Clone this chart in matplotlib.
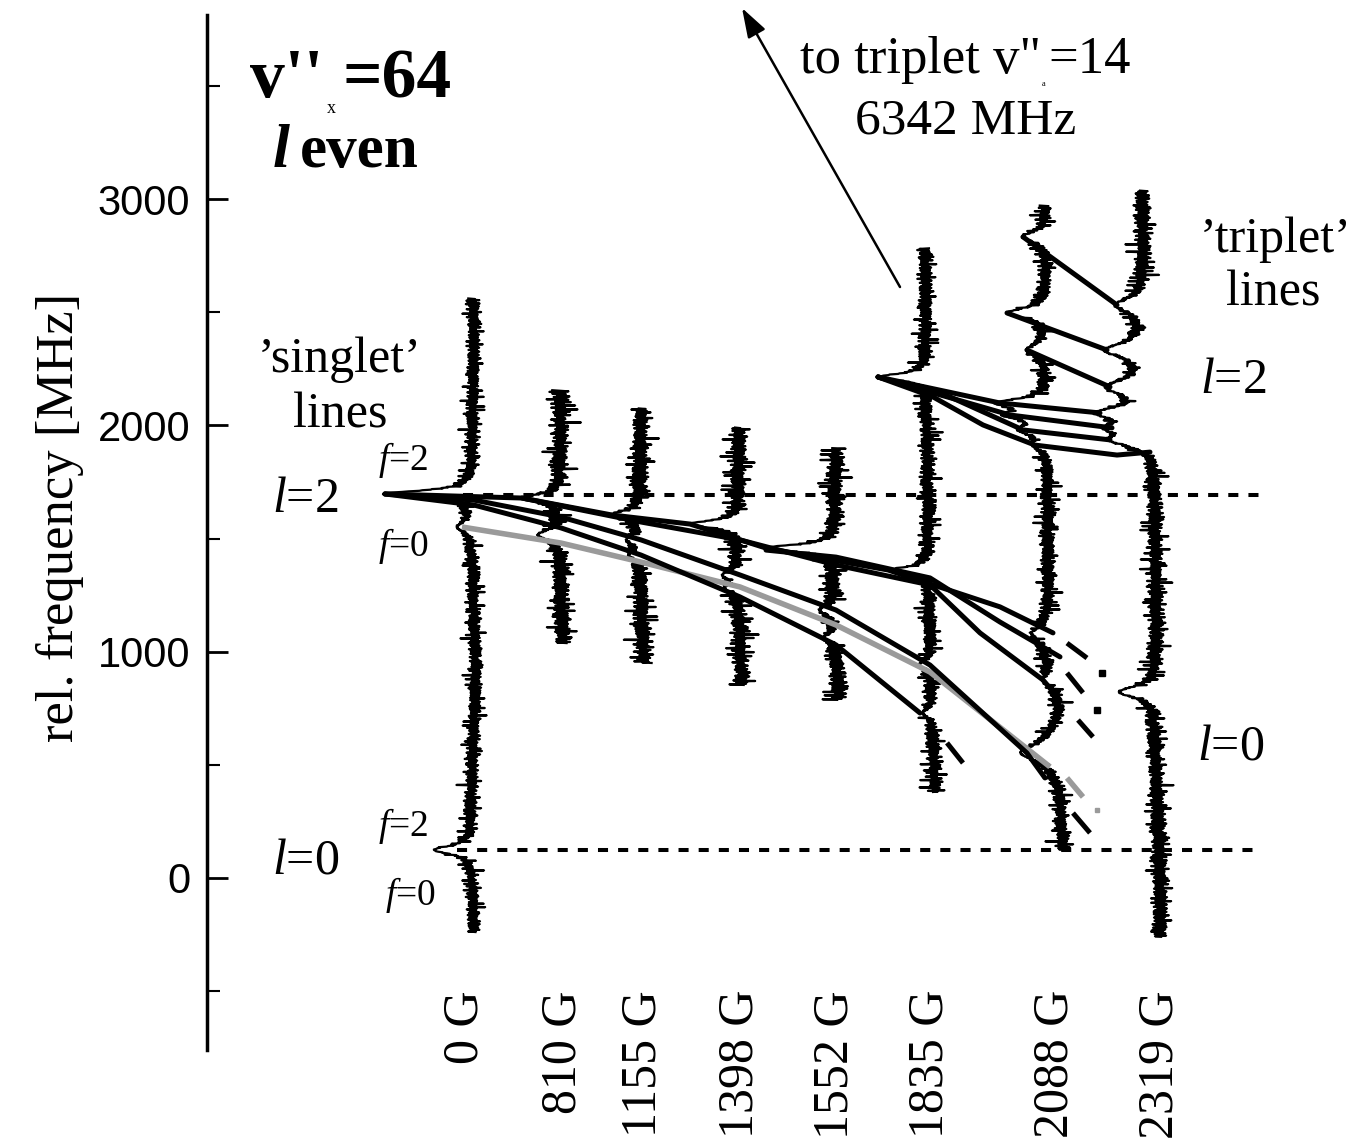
import numpy as np
import matplotlib.pyplot as plt
from matplotlib import transforms

plt.rcParams['mathtext.fontset'] = 'custom'
plt.rcParams['mathtext.rm'] = 'Liberation Serif'
plt.rcParams['mathtext.it'] = 'Liberation Serif:italic'
plt.rcParams['mathtext.bf'] = 'Liberation Serif:bold'

SERIF = 'Liberation Serif'
SANS = 'Liberation Sans'
W, H = 1350, 1147

# magnetic field of each recorded spectrum
fields = [0, 810, 1155, 1398, 1552, 1835, 2088, 2319]
field_labels = ['%d G' % b for b in fields]
label_x = [465, 563, 643, 740, 835, 930, 1055, 1160]

# frequency span of each trace [MHz]
trace_lo = [-239, 1038, 950, 853, 787, 380, 124, -260]
trace_hi = [2563, 2156, 2077, 1993, 1900, 2784, 2974, 3040]

# column of each trace as (MHz, offset) anchors, bottom to top
trace_base = [
    [(-239, 474), (300, 471), (900, 476), (1500, 472), (2563, 474)],
    [(1038, 563), (1500, 560), (2156, 561)],
    [(950, 644), (1400, 640), (2077, 641)],
    [(853, 742), (1300, 738), (1993, 739)],
    [(787, 839), (1200, 834), (1900, 836)],
    [(380, 935), (1300, 929), (2784, 925)],
    [(124, 1063), (400, 1060), (560, 1045), (730, 1060), (870, 1055),
     (1050, 1040), (1200, 1048), (2000, 1049), (2974, 1046)],
    [(-260, 1160), (124, 1160), (600, 1155), (1000, 1157), (1860, 1155),
     (1900, 1146), (3040, 1143)],
]

# resonances seen in each trace: (MHz, depth, half width in MHz)
trace_peaks = [
    [(1697, 89, 18), (1551, 14, 25), (124, 38, 22)],
    [(1679, 39, 20), (1516, 22, 25)],
    [(1604, 30, 20), (1494, 12, 22), (1427, 10, 22)],
    [(1564, 50, 18), (1339, 14, 22), (1280, 12, 22)],
    [(1458, 70, 18), (1184, 14, 22), (1060, 12, 22)],
    [(2214, 47, 18), (1361, 37, 18), (941, 12, 22), (729, 10, 22)],
    [(2833, 24, 25), (2497, 40, 25), (2333, 20, 30), (2099, 47, 22),
     (2046, 37, 22), (1980, 25, 25), (1913, 12, 25), (1083, 10, 22),
     (875, 12, 25), (552, 25, 40)],
    [(2532, 28, 35), (2333, 38, 35), (2170, 35, 35), (2055, 43, 28),
     (1989, 30, 25), (1936, 30, 25), (822, 37, 30)],
]
noise_amp = [9, 12, 12, 12, 12, 10, 10, 11]

# detector noise, repeated along the traces
noise_pattern = [0.3, -0.8, 0.5, -0.2, 0.9, -0.6, 0.1, -0.9, 0.7, -0.4, 0.2, -0.7,
                 1.0, -0.3, 0.4, -1.0, 0.6, -0.5, 0.0, 0.8, -0.6, 0.3, -0.9, 0.5,
                 -0.1, 0.7, -0.8, 0.2, -0.4, 0.9, -0.7, 0.4, -0.2, 0.6, -1.0, 0.8,
                 -0.3, 0.1, -0.5, 0.7, -0.9, 0.3, 0.5, -0.6, 0.9, -0.2, -0.8, 0.4,
                 0.0, -0.7, 1.0, -0.4, 0.2, -0.9, 0.6, -0.1, 0.8, -0.5, 0.3, -0.8,
                 0.5, 0.1, -0.6, 0.9, -0.3, 0.7, -1.0, 0.2, -0.4, 0.6, -0.7, 0.4,
                 -0.2, 0.8, -0.9, 0.1, 0.5, -0.5, 0.7, -0.3, 0.9, -0.8, 0.3, -0.1,
                 0.6, -0.6, 1.0, -0.4, 0.2, -0.7, 0.4, -0.9, 0.8, -0.2, 0.5, -0.5, 0.1]
# burst envelope of the noise (length coprime with the pattern above)
spike_pattern = [0.6, 0.8, 0.5, 1.5, 0.7, 0.6, 0.9, 0.5, 0.7, 1.2, 0.6, 0.8, 0.5, 0.7,
                 1.7, 0.6, 0.5, 0.8, 0.6, 0.9, 0.5, 1.3, 0.7, 0.6, 0.8, 0.5, 0.6, 1.6,
                 0.7, 0.5, 0.9, 0.6, 0.7, 1.1, 0.5, 0.8, 0.6, 1.4, 0.7, 0.5, 0.8]

# level curves through the resonances: (offsets, MHz)
singlet_curves = [
    ([385, 522, 612, 690, 766, 888, 1000, 1053], [1697, 1679, 1604, 1564, 1458, 1361, 1198, 1083]),
    ([766, 836, 930, 1000, 1060], [1449, 1418, 1326, 1131, 977]),
    ([522, 641, 740, 836, 930, 980, 1043, 1060], [1679, 1573, 1494, 1383, 1295, 1083, 875, 787]),
    ([385, 474, 561, 641, 740, 836, 930, 1027, 1045], [1697, 1670, 1595, 1494, 1339, 1184, 941, 552, 442]),
    ([385, 474, 561, 641, 740, 836, 920], [1697, 1648, 1547, 1427, 1242, 1030, 729]),
]
gray_curve = ([462, 561, 641, 740, 836, 930, 1050], [1551, 1480, 1396, 1286, 1118, 910, 491])
# extrapolated continuations: dash segment and optional dot
singlet_tails = [
    ([1067, 1087], [1038, 972], (1102, 906)),
    ([1067, 1083], [906, 818], (1097, 742)),
    ([1078, 1093], [698, 623], None),
    ([1073, 1090], [287, 199], None),
    ([947, 963], [597, 508], None),
]
gray_tail = ([1067, 1083], [442, 358], (1097, 300))

triplet_curves = [
    ([1023, 1117], [2833, 2532]),
    ([1007, 1107], [2497, 2333]),
    ([1027, 1110], [2333, 2170]),
    ([878, 1000, 1100], [2214, 2099, 2055]),
    ([878, 1010, 1112], [2214, 2046, 1989]),
    ([878, 950, 1023, 1110], [2214, 2126, 1980, 1936]),
    ([878, 933, 983, 1035, 1117, 1150], [2214, 2126, 2002, 1913, 1869, 1882]),
]

l2_level = 1692
l0_level = 124

fig = plt.figure(figsize=(W / 100, H / 100), dpi=100)
ax = fig.add_axes([0, 0, 1, 1])
ax.set_xlim(0, W)
ax.set_ylim(-1189, 3880)
ax.patch.set_visible(False)
for side in ['top', 'right', 'bottom']:
    ax.spines[side].set_visible(False)
ax.spines['left'].set_position(('data', 207))
ax.spines['left'].set_bounds(-760, 3813)
ax.spines['left'].set_linewidth(2.5)
ax.xaxis.set_visible(False)
ax.set_yticks([0, 1000, 2000, 3000])
ax.set_yticks([-500, 500, 1500, 2500, 3500], minor=True)
ax.tick_params(axis='y', which='major', direction='in', length=15, width=2,
               pad=12, labelsize=30, labelfontfamily=SANS)
ax.tick_params(axis='y', which='minor', direction='in', length=9, width=1.5)

# pixel-like layout coordinates for annotations
pix = transforms.Affine2D().scale(1 / W, -1 / H).translate(0, 1) + fig.transFigure

# traces
for i in range(len(fields)):
    f = np.arange(trace_lo[i], trace_hi[i], 2.5)
    af = [a[0] for a in trace_base[i]]
    bx = [a[1] for a in trace_base[i]]
    x = np.interp(f, af, bx)
    peak_frac = np.zeros_like(f)
    for f0, depth, hw in trace_peaks[i]:
        prof = 1.0 / (1.0 + ((f - f0) / hw) ** 2)
        x = x - depth * prof
        peak_frac = np.maximum(peak_frac, prof)
    noise = np.resize(np.roll(noise_pattern, 13 * i), f.size)
    bursts = np.resize(np.roll(spike_pattern, 7 * i), f.size)
    x = x + noise_amp[i] * noise * bursts * (1 - 0.9 * peak_frac)
    ax.plot(x, f, color='black', lw=1.6, zorder=2)

# dotted reference levels
ax.plot([463, 1268], [l2_level, l2_level], color='black', lw=2.9,
        linestyle=(0, (2.5, 2.5)), zorder=3)
ax.plot([457, 1262], [l0_level, l0_level], color='black', lw=2.9,
        linestyle=(0, (2.5, 2.5)), zorder=3)

# level curves
ax.plot(*gray_curve, color='#9a9a9a', lw=4, zorder=4, solid_capstyle='butt')
ax.plot(*gray_tail[:2], color='#9a9a9a', lw=4, zorder=4, solid_capstyle='butt')
ax.plot(*gray_tail[2], 's', color='#9a9a9a', ms=3, zorder=4)
for xs, fs in singlet_curves + triplet_curves:
    ax.plot(xs, fs, color='black', lw=3.6, zorder=5, solid_capstyle='round',
            solid_joinstyle='round')
for xs, fs, dot in singlet_tails:
    ax.plot(xs, fs, color='black', lw=3.6, zorder=5, solid_capstyle='butt')
    if dot is not None:
        ax.plot(*dot, 's', color='black', ms=5, zorder=5)

# field labels
for lx, lab in zip(label_x, field_labels):
    ax.text(lx, 990, lab, transform=pix, rotation=90, ha='center', va='top',
            family=SERIF, fontsize=36)

# axis title
ax.text(60, 517, 'rel. frequency [MHz]', transform=pix, rotation=90,
        ha='center', va='center', family=SERIF, fontsize=38)

# headline
ax.text(250, 97, "v''", transform=pix, family=SERIF, weight='bold', fontsize=50)
ax.text(327, 113, 'x', transform=pix, family=SERIF, fontsize=13)
ax.text(343, 97, '=64', transform=pix, family=SERIF, weight='bold', fontsize=50)
ax.text(273, 167, 'l', transform=pix, family=SERIF, weight='bold',
        style='italic', fontsize=44)
ax.text(300, 167, 'even', transform=pix, family=SERIF, weight='bold', fontsize=44)

# link to the triplet level far above
ax.annotate('', xy=(742, 8), xycoords=pix, xytext=(900, 287), textcoords=pix,
            arrowprops=dict(arrowstyle='-|>,head_length=0.9,head_width=0.3',
                            lw=1.8, color='black', shrinkA=0, shrinkB=0,
                            mutation_scale=20))
ax.text(800, 73, 'to triplet v"', transform=pix, family=SERIF, fontsize=38)
ax.text(1042, 86, 'a', transform=pix, family=SERIF, fontsize=6)
ax.text(1048, 73, '=14', transform=pix, family=SERIF, fontsize=38)
ax.text(966, 133, '6342 MHz', transform=pix, ha='center', family=SERIF, fontsize=37)

# group labels
ax.text(339, 372, '\u2019singlet\u2019', transform=pix, ha='center', family=SERIF, fontsize=36)
ax.text(340, 427, 'lines', transform=pix, ha='center', family=SERIF, fontsize=36)
ax.text(1200, 252, '\u2019triplet\u2019', transform=pix, family=SERIF, fontsize=36)
ax.text(1273, 305, 'lines', transform=pix, ha='center', family=SERIF, fontsize=36)

ax.text(272, 512, r'$\mathit{l}$=2', transform=pix, family=SERIF, fontsize=36)
ax.text(272, 873, r'$\mathit{l}$=0', transform=pix, family=SERIF, fontsize=36)
ax.text(1200, 393, r'$\mathit{l}$=2', transform=pix, family=SERIF, fontsize=36)
ax.text(1197, 760, r'$\mathit{l}$=0', transform=pix, family=SERIF, fontsize=36)

ax.text(378, 470, r'$\mathit{f}$=2', transform=pix, family=SERIF, fontsize=27)
ax.text(378, 556, r'$\mathit{f}$=0', transform=pix, family=SERIF, fontsize=27)
ax.text(378, 836, r'$\mathit{f}$=2', transform=pix, family=SERIF, fontsize=27)
ax.text(385, 905, r'$\mathit{f}$=0', transform=pix, family=SERIF, fontsize=27)

fig.savefig('out.png', dpi=100)
